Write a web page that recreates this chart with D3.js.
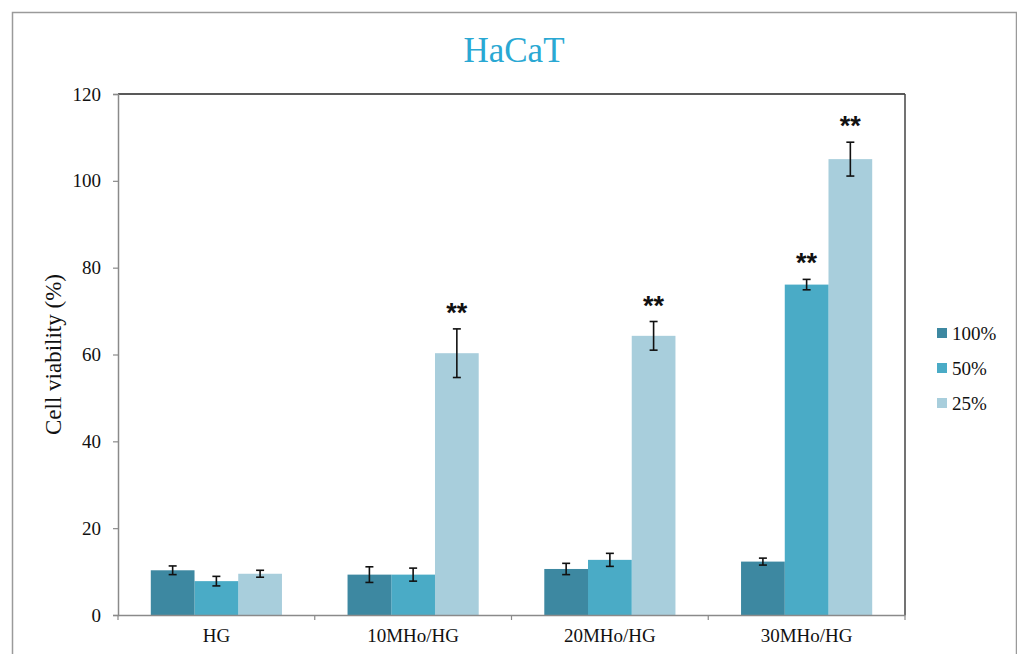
<!DOCTYPE html>
<html>
<head>
<meta charset="utf-8">
<script src="https://cdn.jsdelivr.net/npm/d3@7"></script>
<style>
  html, body { margin: 0; padding: 0; background: #fff; }
  svg { display: block; }
</style>
</head>
<body>
<svg id="chart" width="1017" height="654"></svg>
<script>
// Cell viability of HaCaT cells under high glucose with MHo treatment
const categories = ["HG", "10MHo/HG", "20MHo/HG", "30MHo/HG"];
const seriesNames = ["100%", "50%", "25%"];
const values100 = [10.3, 9.3, 10.6, 12.3];
const values50 = [7.8, 9.3, 12.7, 76.1];
const values25 = [9.5, 60.3, 64.3, 105.0];
const errors100 = [1.0, 1.8, 1.3, 0.8];
const errors50 = [1.1, 1.5, 1.5, 1.2];
const errors25 = [0.8, 5.6, 3.3, 3.9];
const significance100 = ["", "", "", ""];
const significance50 = ["", "", "", "**"];
const significance25 = ["", "**", "**", "**"];
const yTicks = [0, 20, 40, 60, 80, 100, 120];
const colors = ["#3d88a1", "#4aabc6", "#a8cedc"];

const series = [
  { name: seriesNames[0], values: values100, errors: errors100, sig: significance100 },
  { name: seriesNames[1], values: values50, errors: errors50, sig: significance50 },
  { name: seriesNames[2], values: values25, errors: errors25, sig: significance25 }
];

const svg = d3.select("#chart");
const serif = "\"Liberation Serif\", \"Times New Roman\", serif";

// Outer frame
svg.append("rect")
  .attr("x", 12.5).attr("y", 12.5)
  .attr("width", 1004).attr("height", 660)
  .attr("fill", "none").attr("stroke", "#9a9a9a").attr("stroke-width", 1.5);

const plot = { left: 118, top: 94, right: 905, bottom: 615 };

const x = d3.scaleBand()
  .domain(categories)
  .range([plot.left, plot.right])
  .padding(0);

// three bars per group with a gap of 1.5 bar widths between groups
const x1 = d3.scaleBand()
  .domain(seriesNames)
  .range([x.bandwidth() * 0.75 / 4.5, x.bandwidth() * (1 - 0.75 / 4.5)])
  .padding(0);

const y = d3.scaleLinear().domain([0, 120]).range([plot.bottom, plot.top]);

// Title
svg.append("text")
  .attr("x", 514).attr("y", 62)
  .attr("text-anchor", "middle")
  .style("font-family", serif)
  .attr("font-size", 35)
  .attr("fill", "#2aa8d3")
  .text("HaCaT");

// Plot area border (top and right)
svg.append("line")
  .attr("x1", plot.left).attr("x2", plot.right)
  .attr("y1", plot.top).attr("y2", plot.top)
  .attr("stroke", "#222").attr("stroke-width", 1.5);
svg.append("line")
  .attr("x1", plot.right).attr("x2", plot.right)
  .attr("y1", plot.top).attr("y2", plot.bottom)
  .attr("stroke", "#444").attr("stroke-width", 1.5);

// Bars, error bars and significance marks
const errLayer = svg.append("g").attr("stroke", "#111").attr("stroke-width", 1.6);
const sigLayer = svg.append("g");

series.forEach((s, si) => {
  const rows = categories.map((c, ci) => ({ c, v: s.values[ci], e: s.errors[ci], sig: s.sig[ci] }));
  svg.insert("g", "g").attr("fill", colors[si])
    .selectAll("rect")
    .data(rows)
    .join("rect")
    .attr("x", d => x(d.c) + x1(s.name))
    .attr("y", d => y(d.v))
    .attr("width", x1.bandwidth())
    .attr("height", d => y(0) - y(d.v));

  rows.forEach(d => {
    const cx = x(d.c) + x1(s.name) + x1.bandwidth() / 2;
    const top = y(d.v + d.e), bot = y(d.v - d.e);
    errLayer.append("line").attr("x1", cx).attr("x2", cx).attr("y1", top).attr("y2", bot);
    errLayer.append("line").attr("x1", cx - 4).attr("x2", cx + 4).attr("y1", top).attr("y2", top);
    errLayer.append("line").attr("x1", cx - 4).attr("x2", cx + 4).attr("y1", bot).attr("y2", bot);
    if (d.sig) {
      sigLayer.append("text")
        .attr("x", cx).attr("y", top - 7)
        .attr("text-anchor", "middle")
        .style("font-family", "\"Liberation Sans\", Arial, sans-serif")
        .attr("font-size", 27)
        .attr("font-weight", "bold")
        .attr("fill", "#111")
        .text(d.sig);
    }
  });
});

// Y axis
const yAxis = d3.axisLeft(y).tickValues(yTicks).tickSize(5).tickPadding(12);
const gy = svg.append("g").attr("transform", `translate(${plot.left},0)`).call(yAxis);
gy.attr("font-family", null);
gy.select(".domain").attr("stroke", "#8a8a8a").attr("stroke-width", 1.5);
gy.selectAll(".tick line").attr("stroke", "#8a8a8a").attr("stroke-width", 1.2);
gy.selectAll(".tick text")
  .style("font-family", serif).attr("font-size", 19).attr("fill", "#111");

// X axis
const xAxis = d3.axisBottom(x).tickSize(0).tickPadding(14);
const gx = svg.append("g").attr("transform", `translate(0,${plot.bottom})`).call(xAxis);
gx.attr("font-family", null);
gx.select(".domain").attr("stroke", "#8a8a8a").attr("stroke-width", 1.5);
gx.selectAll(".tick text")
  .style("font-family", serif).attr("font-size", 19).attr("fill", "#111");
// category separators
const sepPositions = categories.map(c => x(c)).concat([plot.right]);
svg.append("g").selectAll("line")
  .data(sepPositions)
  .join("line")
  .attr("x1", d => d).attr("x2", d => d)
  .attr("y1", plot.bottom).attr("y2", plot.bottom + 5)
  .attr("stroke", "#8a8a8a").attr("stroke-width", 1.2);

// Y axis title
svg.append("text")
  .attr("transform", `translate(61,${(plot.top + plot.bottom) / 2}) rotate(-90)`)
  .attr("text-anchor", "middle")
  .style("font-family", serif)
  .attr("font-size", 23)
  .attr("fill", "#111")
  .text("Cell viability (%)");

// Legend
const legend = svg.append("g").attr("transform", "translate(937,333)");
seriesNames.forEach((n, i) => {
  const row = legend.append("g").attr("transform", `translate(0,${i * 35})`);
  row.append("rect").attr("x", 0).attr("y", -5).attr("width", 10).attr("height", 10).attr("fill", colors[i]);
  row.append("text").attr("x", 15).attr("y", 0).attr("dy", "0.35em")
    .style("font-family", serif).attr("font-size", 19).attr("fill", "#111").text(n);
});
</script>
</body>
</html>
